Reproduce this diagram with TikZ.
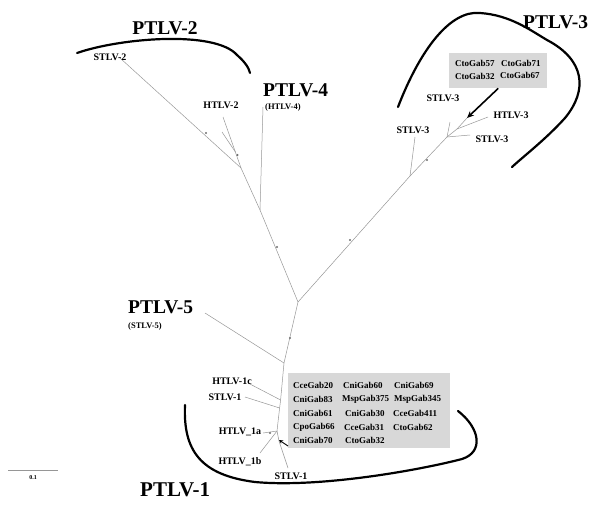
\documentclass[tikz,border=0pt]{standalone}
\usepackage{fontspec}
\setmainfont{Liberation Serif}
\usetikzlibrary{arrows.meta}
\definecolor{treegray}{RGB}{150,150,150}
\definecolor{boxgray}{RGB}{216,216,216}
\definecolor{dotgray}{RGB}{110,110,110}
\begin{document}
\begin{tikzpicture}[x=1pt,y=-1pt,
  branch/.style={draw=treegray, line width=0.5pt},
  clade/.style={draw=black, line width=2.2pt, line cap=round},
  cladearrow/.style={draw=black, line width=1.6pt, -{Stealth[length=7pt,width=6pt]}},
  big/.style={font=\bfseries\fontsize{19.5}{20}\selectfont, inner sep=0pt},
  leaf/.style={font=\bfseries\fontsize{10}{11}\selectfont, inner sep=0pt},
  sub/.style={font=\bfseries\fontsize{8.5}{9}\selectfont, inner sep=0pt, anchor=west},
  iso/.style={font=\bfseries\fontsize{9}{10}\selectfont, inner sep=0pt, anchor=west},
  bsdot/.style={circle, fill=dotgray, inner sep=0pt, minimum size=2.4pt},
  gbox/.style={fill=boxgray, draw=none, inner sep=0pt, anchor=north west}]

\useasboundingbox (0,0) rectangle (600,509);

% ---------- grey boxes ----------
\node[gbox, minimum width=162pt, minimum height=75pt] (box1) at (288,373) {};
\node[gbox, minimum width=98pt, minimum height=35pt] (box2) at (449,53) {};

% ---------- tree coordinates ----------
\coordinate (C)  at (298,302);
\coordinate (L1) at (260,210);
\coordinate (P4) at (263,107);
\coordinate (L2) at (241,168);
\coordinate (S2) at (120,58);
\coordinate (H2a) at (223,117);
\coordinate (H2n) at (235.4,152);
\coordinate (H2b) at (222,132);
\coordinate (R1) at (410,176);
\coordinate (S3L) at (415,137);
\coordinate (R2) at (447,137);
\coordinate (S3R) at (470,135);
\coordinate (R2s) at (450,122);
\coordinate (R3) at (457,129);
\coordinate (H3) at (488,117);
\coordinate (R3t) at (467,118);
\coordinate (D1) at (284,363);
\coordinate (P5) at (205,313);
\coordinate (D2) at (280.6,400);
\coordinate (H1c) at (248,383);
\coordinate (D3) at (279.6,408);
\coordinate (S1a) at (245,397);
\coordinate (D4) at (277,431);
\coordinate (H1a) at (263,433);
\coordinate (H1b) at (260,453);
\coordinate (D5) at (279,441);
\coordinate (S1b) at (288,468);

% ---------- branches ----------
\draw[branch] (C) -- (L1);
\draw[branch] (L1) -- (P4);
\draw[branch] (L1) -- (L2);
\draw[branch] (L2) -- (S2);
\draw[branch] (L2) -- (H2a);
\draw[branch] (H2n) -- (H2b);
\draw[branch] (C) -- (R1);
\draw[branch] (R1) -- (S3L);
\draw[branch] (R1) -- (R2);
\draw[branch] (R2) -- (S3R);
\draw[branch] (R2) -- (R2s);
\draw[branch] (R2) -- (R3);
\draw[branch] (R3) -- (H3);
\draw[branch] (R3) -- (R3t);
\draw[branch] (C) -- (D1);
\draw[branch] (D1) -- (P5);
\draw[branch] (D1) -- (D2);
\draw[branch] (D2) -- (H1c);
\draw[branch] (D2) -- (D3);
\draw[branch] (D3) -- (S1a);
\draw[branch] (D3) -- (D4);
\draw[branch] (D4) -- (H1a);
\draw[branch] (D4) -- (H1b);
\draw[branch] (D4) -- (D5);
\draw[branch] (D5) -- (S1b);

% ---------- bootstrap dots ----------
\node[bsdot] (b1) at (206,133) {};
\node[bsdot] (b2) at (237.5,155) {};
\node[bsdot] (b3) at (277,247) {};
\node[bsdot] (b4) at (290,338) {};
\node[bsdot] (b5) at (350,240) {};
\node[bsdot] (b6) at (427,160) {};
\node[bsdot] (b7) at (270,433) {};

% ---------- clade arcs ----------
\draw[clade] (77,53) .. controls (120,38) and (215,30) .. (237,55)
             .. controls (245,62) and (249,68) .. (250,73);
\draw[clade] (398,107) .. controls (420,50) and (450,10) .. (480,13)
             .. controls (510,15) and (530,30) .. (547,40)
             .. controls (585,60) and (588,90) .. (565,118)
             .. controls (545,140) and (525,155) .. (512,167);
\draw[clade] (185,405) .. controls (183,450) and (200,475) .. (255,482)
             .. controls (320,488) and (420,470) .. (462,459)
             .. controls (484,452) and (480,428) .. (458,411);

% ---------- arrows ----------
\coordinate (a1s) at (288,446);
\coordinate (a1e) at (279,440);
\draw[cladearrow] (box2.south) -- (R3t);
\draw[draw=black, line width=0.9pt, -{Stealth[length=4pt,width=4pt]}] (a1s) -- (a1e);

% ---------- clade labels ----------
\node[big] (lp2) at (165,28) {PTLV-2};
\node[big, anchor=west] (lp3) at (523,22) {PTLV-3};
\node[big, anchor=west] (lp4) at (263,90) {PTLV-4};
\node[sub] (lp4s) at (265,107) {(HTLV-4)};
\node[big, anchor=west] (lp5) at (128,307) {PTLV-5};
\node[sub] (lp5s) at (128,326) {(STLV-5)};
\node[big, anchor=west, font=\bfseries\fontsize{21}{22}\selectfont] (lp1) at (140,490) {PTLV-1};

% ---------- leaf labels ----------
\node[leaf] (tS2) at (110,57) {STLV-2};
\node[leaf] (tH2) at (221,105) {HTLV-2};
\node[leaf] (tS3a) at (443,98) {STLV-3};
\node[leaf] (tH3) at (511,115) {HTLV-3};
\node[leaf] (tS3b) at (492,139) {STLV-3};
\node[leaf] (tS3c) at (413,130) {STLV-3};
\node[leaf] (tH1c) at (232,381) {HTLV-1c};
\node[leaf] (tS1a) at (225,397) {STLV-1};
\node[leaf] (tH1a) at (240,432) {HTLV\_1a};
\node[leaf] (tH1b) at (240,462) {HTLV\_1b};
\node[leaf] (tS1b) at (291,476) {STLV-1};

% ---------- isolate lists ----------
\node[iso] at (455,63) {CtoGab57};
\node[iso] at (501,63) {CtoGab71};
\node[iso] at (455,76) {CtoGab32};
\node[iso] at (500,75) {CtoGab67};

\node[iso] at (293,385) {CceGab20};
\node[iso] at (343,385) {CniGab60};
\node[iso] at (394,385) {CniGab69};
\node[iso] at (293,399) {CniGab83};
\node[iso] at (342,399) {MspGab375};
\node[iso] at (394,399) {MspGab345};
\node[iso] at (293,413) {CniGab61};
\node[iso] at (345,413) {CniGab30};
\node[iso] at (393,413) {CceGab411};
\node[iso] at (293,427) {CpoGab66};
\node[iso] at (344,427) {CceGab31};
\node[iso] at (393,427) {CtoGab62};
\node[iso] at (293,440) {CniGab70};
\node[iso] at (345,440) {CtoGab32};

% ---------- scale bar ----------
\coordinate (sb1) at (8,470);
\coordinate (sb2) at (58,470);
\draw[branch] (sb1) -- (sb2);
\node[font=\bfseries\fontsize{6}{7}\selectfont, inner sep=0pt] (sbl) at (33,478) {0.1};
\end{tikzpicture}
\end{document}
